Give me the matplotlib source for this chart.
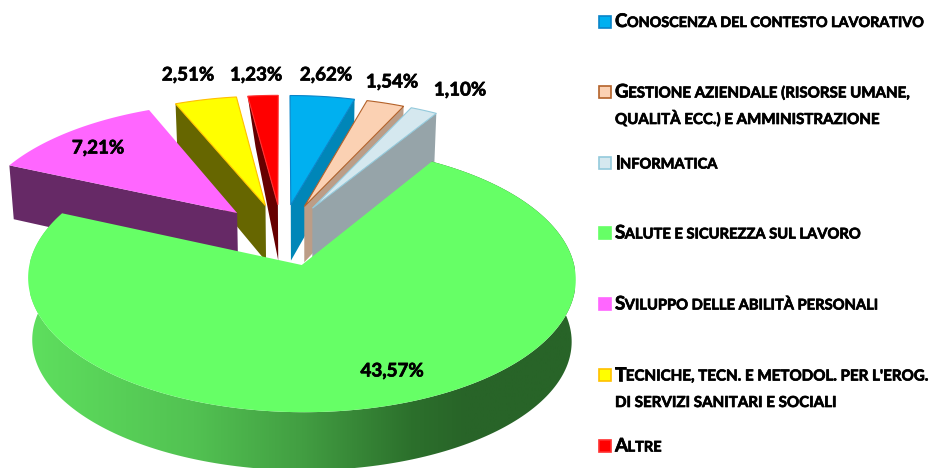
import numpy as np
import matplotlib
matplotlib.use("Agg")
import matplotlib.pyplot as plt
import matplotlib.patheffects as pe
from matplotlib.colors import LinearSegmentedColormap
from matplotlib.patches import Polygon, Rectangle

plt.rcParams['font.family'] = ['Lato', 'DejaVu Sans']

# dati del grafico
categories = ["Conoscenza del contesto lavorativo",
              "Gestione aziendale (risorse umane,\nqualità ecc.) e amministrazione",
              "Informatica",
              "Salute e sicurezza sul lavoro",
              "Sviluppo delle abilità personali",
              "Tecniche, tecn. e metodol. per l'erog.\ndi servizi sanitari e sociali",
              "Altre"]
values = [2.62, 1.54, 1.10, 43.57, 7.21, 2.51, 1.23]

# colori: faccia, parete, bordo
top_colors = ['#00B0F0', '#FBD1B3', '#D5E8EF', '#66FF66', '#FF66FF', '#FFFF00', '#FF0000']
wall_colors = ['#0086B8', '#BC9D87', '#96A4A9', '#3F9A3F', '#662966', '#666600', '#660000']
edge_colors = ['#0A84C8', '#B4622A', '#94CADC', 'none', 'none', '#FFC000', '#FF3030']

# posizioni (pixel) di etichette e legenda
label_pos = [(326, 75), (392, 82), (460, 90), (392, 371), (98, 148), (188, 75), (256, 75)]
legend_y = [21.5, 92, 163, 233, 304, 375, 446]
legend_size = [10.35, 10.85, 10.5, 10.6, 10.6, 10.9, 10.5]
draw_order = [6, 5, 4, 0, 1, 2]   # spicchi staccati, dal fondo verso l'osservatore
wall_shift = {6: 7}               # la parete del rosso rientra

# geometria della torta 3D
CX, CY = 282, 234.8
A, B = 266, 126
P_X, P_Y = 0.10, 0.10
EXPLODE_X, EXPLODE_Y = 0.246, 0.245
DEPTH = 57
VP_X, SHRINK = 302, 0.985

bold = [pe.withStroke(linewidth=0.5, foreground='black')]


def project(x, y):
    w = 1 - P_Y * y
    return CX + A * x / (1 - P_X * y), CY + B * y / w, w


def wedge(a0, a1, n=60):
    mid = (a0 + a1) / 2
    ax, ay = EXPLODE_X * np.sin(mid), -EXPLODE_Y * np.cos(mid)
    th = np.linspace(a0, a1, n)
    return (ax, ay), ax + np.sin(th), ay - np.cos(th)


def drop(sx, sy, w):
    return VP_X + (sx - VP_X) * SHRINK, sy + DEPTH / w


fig = plt.figure(figsize=(9.33, 4.68), dpi=100)
ax = fig.add_axes([0, 0, 1, 1])
ax.axis('off')

shares = np.array(values) / sum(values) * 2 * np.pi
ends = np.cumsum(shares)
starts = ends - shares


def draw_slice(i):
    (ax0, ay0), xs, ys = wedge(starts[i], ends[i])
    sx, sy, w = project(xs, ys)
    px, py, pw = project(ax0, ay0)
    # la parete visibile: lato iniziale a sinistra, lato finale a destra
    k = -1 if i < 3 else 0
    ox, oy = drop(sx[k], sy[k], w[k])
    ox += wall_shift.get(i, 0)
    bx, by = drop(px, py, pw)
    ax.add_patch(Polygon([(sx[k], sy[k]), (ox, oy), (bx, by), (px, py)], closed=True,
                         fc=wall_colors[i], ec='none', zorder=2))
    top = np.column_stack([np.r_[px, sx], np.r_[py, sy]])
    ax.add_patch(Polygon(top, closed=True, fc=top_colors[i], ec=edge_colors[i], lw=0.8, zorder=2))


for i in draw_order:
    draw_slice(i)

# fetta verde con parete sfumata
g = 3
(gx, gy), xs, ys = wedge(starts[g], ends[g], 240)
sx, sy, w = project(xs, ys)
px, py, pw = project(gx, gy)
bx = VP_X + (sx - VP_X) * SHRINK
by = sy + 62 - 0.03 * (sy - 283)
wall = Polygon(np.column_stack([np.r_[sx, bx[::-1]], np.r_[sy, by[::-1]]]), closed=True,
               fc='none', ec='none', zorder=3)
ax.add_patch(wall)
grad = LinearSegmentedColormap.from_list('verde', [(0, '#5EDF5E'), (0.3, '#52C252'), (0.5, '#429E42'),
                                                   (0.7, '#2C702C'), (0.8, '#286428'), (1, '#286428')])
img = ax.imshow(np.linspace(0, 1, 256).reshape(1, -1), cmap=grad, extent=(30, 575, 520, 130),
                aspect='auto', zorder=3)
img.set_clip_path(wall)
ax.set_xlim(0, 933)
ax.set_ylim(468, 0)
ax.add_patch(Polygon(np.column_stack([np.r_[px, sx], np.r_[py, sy]]), closed=True,
                     fc=top_colors[g], ec='none', zorder=4))

# etichette dei dati
for v, (lx, ly) in zip(values, label_pos):
    ax.text(lx, ly, f"{v:.2f}%".replace('.', ','), ha='center', va='center',
            fontsize=13.5, fontweight='bold', color='black', zorder=6, path_effects=bold)


# legenda in maiuscoletto
def small_caps(x, y, text, size):
    renderer = fig.canvas.get_renderer()
    first = text[0] if text[0].isupper() else ''
    if first:
        t = ax.text(x, y + 5.5, first, fontsize=13.5, fontweight='bold', va='baseline',
                    zorder=6, path_effects=bold)
        x = t.get_window_extent(renderer).x1 - 0.5
    ax.text(x, y + 5.5, text[len(first):].upper(), fontsize=size, fontweight='bold', va='baseline',
            zorder=6, path_effects=bold)


for i, (name, y) in enumerate(zip(categories, legend_y)):
    ec = edge_colors[i] if edge_colors[i] != 'none' else top_colors[i]
    ax.add_patch(Rectangle((598.5, y - 6), 12, 12, fc=top_colors[i], ec=ec, lw=1.2, zorder=6))
    for j, line in enumerate(name.split('\n')):
        small_caps(615, y + j * 26.5, line, legend_size[i])

fig.savefig("out.png", dpi=100)
